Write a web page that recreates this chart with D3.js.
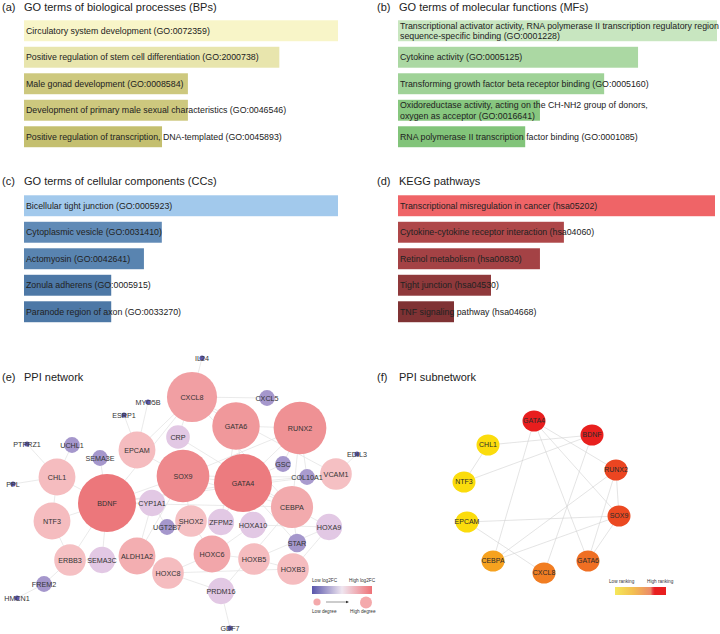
<!DOCTYPE html>
<html>
<head>
<meta charset="utf-8">
<script src="https://cdn.jsdelivr.net/npm/d3@7"></script>
<style>
  body { margin: 0; background: #fff; }
  svg { display: block; font-family: "Liberation Sans", Arial, sans-serif; }
</style>
</head>
<body>
<svg id="chart" width="720" height="634"></svg>
<script>
// ---- enrichment bars (-log10 P) ----
const bpTerms = [
  "Circulatory system development (GO:0072359)",
  "Positive regulation of stem cell differentiation (GO:2000738)",
  "Male gonad development (GO:0008584)",
  "Development of primary male sexual characteristics (GO:0046546)",
  "Positive regulation of transcription, DNA-templated (GO:0045893)"];
const bpScores = [9.1, 7.4, 4.75, 4.75, 4.0];

const mfTerms = [
  "Transcriptional activator activity, RNA polymerase II transcription regulatory region\nsequence-specific binding (GO:0001228)",
  "Cytokine activity (GO:0005125)",
  "Transforming growth factor beta receptor binding (GO:0005160)",
  "Oxidoreductase activity, acting on the CH-NH2 group of donors,\noxygen as acceptor (GO:0016641)",
  "RNA polymerase II transcription factor binding (GO:0001085)"];
const mfScores = [8.0, 6.02, 5.17, 3.56, 3.19];

const ccTerms = [
  "Bicellular tight junction (GO:0005923)",
  "Cytoplasmic vesicle (GO:0031410)",
  "Actomyosin (GO:0042641)",
  "Zonula adherens (GO:0005915)",
  "Paranode region of axon (GO:0033270)"];
const ccScores = [7.2, 3.16, 2.75, 2.0, 2.0];

const keggTerms = [
  "Transcriptional misregulation in cancer (hsa05202)",
  "Cytokine-cytokine receptor interaction (hsa04060)",
  "Retinol metabolism (hsa00830)",
  "Tight junction (hsa04530)",
  "TNF signaling pathway (hsa04668)"];
const keggScores = [9.0, 4.71, 4.03, 2.64, 1.59];

// ---- PPI network (layout coordinates, degree, log2FC) ----
const ppiGenes  = ["IL24","MYO5B","ESRP1","PTPRZ1","PPL","HMCN1","GDF7","EDIL3",
  "CXCL5","UCHL1","SEMA3E","GSC","COL10A1","STAR","UGT2B7","FREM2",
  "CRP","CYP1A1","ZFPM2","HOXA10","HOXA9","PRDM16","SEMA3C",
  "EPCAM","CHL1","NTF3","ERBB3","SHOX2","HOXB5","HOXB3","HOXC8","VCAM1",
  "ALDH1A2","CEBPA","HOXC6","CXCL8","GATA6","RUNX2","SOX9","GATA4","BDNF"];
const ppiX      = [202,148,124,27,13,17,230,357, 267,72,100,283,307,297,167,44,
  178,152,221,253,329,221,102, 137,57,52,70,191,254,293,168,336,
  137,292,212,192,236,300,183,243,107];
const ppiY      = [13,57,70,99,139,253,283,109, 53,100,113,119,132,198,182,239,
  92,158,177,180,182,246,215, 105,132,176,215,176,214,224,228,129,
  211,162,209,52,81,83,131,138,158];
const ppiDegree = [1,1,1,1,1,1,1,1, 5,5,5,5,5,6,5,5,
  8,9,9,9,9,9,9, 13,13,13,11,11,11,11,11,11,
  13,15,13,18,17,19,19,21,21];
const ppiLog2fc = [-3,-3,-3,-3,-3,-3,-3,-3, -1.5,-1.5,-1.5,-1.5,-1.4,-1.5,-1.5,-1.5,
  -0.1,-0.1,-0.1,-0.1,-0.1,-0.1,-0.1, 1.1,1.1,1.1,1.0,1.0,1.1,1.1,1.1,1.0,
  1.5,1.6,1.7,1.9,2.1,2.3,2.5,2.9,3.0];
const ppiLinks = [
  ["IL24","CXCL8"],["MYO5B","EPCAM"],["ESRP1","EPCAM"],["PTPRZ1","CHL1"],["PPL","CHL1"],
  ["UCHL1","CHL1"],["SEMA3E","BDNF"],["CHL1","BDNF"],["NTF3","BDNF"],["CHL1","NTF3"],
  ["ERBB3","BDNF"],["ERBB3","NTF3"],["FREM2","ERBB3"],["HMCN1","FREM2"],["SEMA3C","BDNF"],
  ["SEMA3C","ERBB3"],["ALDH1A2","CYP1A1"],["ALDH1A2","SOX9"],["CYP1A1","UGT2B7"],["CYP1A1","BDNF"],
  ["BDNF","SOX9"],["BDNF","GATA4"],["BDNF","CXCL8"],["BDNF","CEBPA"],["BDNF","VCAM1"],
  ["SOX9","GATA4"],["SOX9","RUNX2"],["SOX9","COL10A1"],["SOX9","EPCAM"],["SOX9","CEBPA"],
  ["SOX9","SHOX2"],["GATA4","GATA6"],["GATA4","RUNX2"],["GATA4","CEBPA"],["GATA4","ZFPM2"],
  ["GATA4","STAR"],["GATA4","VCAM1"],["GATA4","HOXA10"],["GATA4","GSC"],["GATA6","ZFPM2"],
  ["GATA6","CXCL8"],["GATA6","RUNX2"],["RUNX2","COL10A1"],["RUNX2","CEBPA"],["RUNX2","GSC"],
  ["EDIL3","VCAM1"],["CXCL8","CXCL5"],["CXCL8","CRP"],["CXCL8","VCAM1"],["CXCL8","EPCAM"],
  ["CXCL8","CEBPA"],["CRP","CEBPA"],["HOXC6","HOXC8"],["HOXC6","HOXB5"],["HOXC6","HOXA10"],
  ["HOXB5","HOXB3"],["HOXB3","HOXA9"],["HOXA10","HOXA9"],["HOXB5","HOXA9"],["HOXC8","HOXB3"],
  ["HOXC6","SHOX2"],["HOXC8","ALDH1A2"],["PRDM16","HOXC8"],["PRDM16","CEBPA"],["GDF7","PRDM16"],
  ["STAR","CEBPA"],["HOXA9","CEBPA"]];

// ---- PPI subnetwork (layout coordinates, ranking score) ----
const subGenes = ["GATA4","BDNF","RUNX2","SOX9","GATA6","CXCL8","CEBPA","EPCAM","NTF3","CHL1"];
const subX     = [174,232,256,259,228,184,133,107,104,128];
const subY     = [76,90,125,171,216,228,216,177,137,100];
const subRank  = [10,9.9,8,7.8,6,5.6,4.5,1,1,1];
const subLinks = [
  ["CHL1","BDNF"],["CHL1","NTF3"],["NTF3","BDNF"],["GATA4","RUNX2"],["GATA4","SOX9"],
  ["GATA4","GATA6"],["GATA4","CEBPA"],["BDNF","CXCL8"],["RUNX2","CEBPA"],["RUNX2","SOX9"],
  ["RUNX2","GATA6"],["SOX9","EPCAM"],["SOX9","CEBPA"],["SOX9","GATA6"],["EPCAM","CXCL8"]];

const svg = d3.select("#chart");
const defs = svg.append("defs");

function panelTitle(x, y, tag, text) {
  svg.append("text").attr("x", x).attr("y", y)
    .attr("font-size", 11).attr("fill", "#222").text(tag);
  svg.append("text").attr("x", x + 22).attr("y", y)
    .attr("font-size", 11).attr("fill", "#222").text(text);
}

function barPanel(terms, scores, x0, x1, y0, low, high, gamma) {
  const x = d3.scaleLinear().domain([0, d3.max(scores)]).range([x0, x1]);
  const y = d3.scaleBand().domain(terms)
    .range([y0, y0 + 5 * 26.5]).paddingInner(0.21).paddingOuter(0.105);
  const colour = d3.scalePow().exponent(gamma || 1)
    .domain(d3.extent(scores)).range([low, high]);
  const g = svg.append("g");
  g.selectAll("rect").data(terms).join("rect")
    .attr("x", x0)
    .attr("y", d => y(d))
    .attr("width", (d, i) => x(scores[i]) - x0)
    .attr("height", y.bandwidth())
    .attr("fill", (d, i) => colour(scores[i]));
  g.selectAll("text").data(terms).join("text")
    .attr("x", x0 + 2)
    .attr("y", d => y(d) + y.bandwidth() / 2)
    .attr("font-size", 8.8).attr("fill", "#222")
    .each(function(d) {
      const lines = d.split("\n");
      d3.select(this).selectAll("tspan").data(lines).join("tspan")
        .attr("x", x0 + 2)
        .attr("dy", (l, i) => i === 0 ? (0.35 - (lines.length - 1) * 0.6) + "em" : "1.2em")
        .text(l => l);
    });
}

panelTitle(2, 10.5, "(a)", "GO terms of biological processes (BPs)");
panelTitle(377, 10.5, "(b)", "GO terms of molecular functions (MFs)");
panelTitle(2, 185, "(c)", "GO terms of cellular components (CCs)");
panelTitle(377, 185, "(d)", "KEGG pathways");
panelTitle(2, 380.5, "(e)", "PPI network");
panelTitle(377, 380.5, "(f)", "PPI subnetwork");

barPanel(bpTerms, bpScores, 24, 338, 17.5, "#c4bf6f", "#f8f5c8", 0.65);
barPanel(mfTerms, mfScores, 398, 717, 17.5, "#82c47a", "#c8e6c0");
barPanel(ccTerms, ccScores, 24, 338, 192.5, "#4d78a6", "#a2c9ec");
barPanel(keggTerms, keggScores, 398, 715, 192.5, "#7f3234", "#ef6467");

// ---- (e) PPI network ----
const ex = d3.scaleLinear().domain([0, 360]).range([0, 360]);
const ey = d3.scaleLinear().domain([0, 290]).range([345, 635]);
const rDeg = d3.scaleLinear().domain([1, 21]).range([2.6, 29]);
const fcColour = d3.scaleLinear()
  .domain([-3, -1.5, 0, 1, 3])
  .range(["#5b57ac", "#a597cc", "#e6cce6", "#f5c0c3", "#ec777b"]);

const ppiNodes = ppiGenes.map((g, i) => ({
  id: g, x: ex(ppiX[i]), y: ey(ppiY[i]), r: rDeg(ppiDegree[i]), fc: ppiLog2fc[i]}));
const ppiById = new Map(ppiNodes.map(n => [n.id, n]));

const ge = svg.append("g");
ge.selectAll("line").data(ppiLinks).join("line")
  .attr("x1", d => ppiById.get(d[0]).x).attr("y1", d => ppiById.get(d[0]).y)
  .attr("x2", d => ppiById.get(d[1]).x).attr("y2", d => ppiById.get(d[1]).y)
  .attr("stroke", "#e4e4e4").attr("stroke-width", 0.8);
ge.selectAll("circle").data(ppiNodes).join("circle")
  .attr("cx", d => d.x).attr("cy", d => d.y).attr("r", d => d.r)
  .attr("fill", d => fcColour(d.fc));
ge.selectAll("text").data(ppiNodes).join("text")
  .attr("x", d => d.x).attr("y", d => d.y).attr("dy", "0.35em")
  .attr("text-anchor", "middle").attr("font-size", 7.2).attr("fill", "#333")
  .text(d => d.id);

// legend (e)
const gradE = defs.append("linearGradient").attr("id", "gradFC");
[["0%", "#5a56ab"], ["50%", "#efe6f0"], ["100%", "#ee7277"]].forEach(s =>
  gradE.append("stop").attr("offset", s[0]).attr("stop-color", s[1]));
const le = svg.append("g").attr("font-size", 4.7).attr("fill", "#333");
le.append("text").attr("x", 312).attr("y", 582).text("Low log2FC");
le.append("text").attr("x", 349).attr("y", 582).text("High log2FC");
le.append("rect").attr("x", 312).attr("y", 586).attr("width", 60).attr("height", 8)
  .attr("fill", "url(#gradFC)");
le.append("circle").attr("cx", 317).attr("cy", 602).attr("r", 3.6).attr("fill", "#f4a9ab");
le.append("circle").attr("cx", 366).attr("cy", 602.5).attr("r", 6).attr("fill", "#f4a9ab");
le.append("line").attr("x1", 326).attr("y1", 602).attr("x2", 348).attr("y2", 602)
  .attr("stroke", "#333").attr("stroke-width", 0.5);
le.append("path").attr("d", "M349,602 l-3,-1.3 v2.6 z").attr("fill", "#333");
le.append("text").attr("x", 312).attr("y", 613).text("Low degree");
le.append("text").attr("x", 350).attr("y", 613).text("High degree");

// ---- (f) PPI subnetwork ----
const fx = d3.scaleLinear().domain([0, 360]).range([360, 720]);
const fy = d3.scaleLinear().domain([0, 290]).range([345, 635]);
const rankColour = d3.scaleLinear()
  .domain([1, 4.5, 6, 8, 10])
  .range(["#fbdc0c", "#f6a21f", "#ef6f23", "#eb4521", "#e81e1e"]);

const subNodes = subGenes.map((g, i) => ({id: g, x: fx(subX[i]), y: fy(subY[i]), rank: subRank[i]}));
const subById = new Map(subNodes.map(n => [n.id, n]));
const gf = svg.append("g");
gf.selectAll("line").data(subLinks).join("line")
  .attr("x1", d => subById.get(d[0]).x).attr("y1", d => subById.get(d[0]).y)
  .attr("x2", d => subById.get(d[1]).x).attr("y2", d => subById.get(d[1]).y)
  .attr("stroke", "#d2d2d2").attr("stroke-width", 0.6);
gf.selectAll("ellipse").data(subNodes).join("ellipse")
  .attr("cx", d => d.x).attr("cy", d => d.y).attr("rx", 11.5).attr("ry", 10.5)
  .attr("fill", d => rankColour(d.rank));
gf.selectAll("text").data(subNodes).join("text")
  .attr("x", d => d.x).attr("y", d => d.y).attr("dy", "0.35em")
  .attr("text-anchor", "middle").attr("font-size", 7).attr("fill", "#2a2a2a")
  .text(d => d.id);

// legend (f)
const gradF = defs.append("linearGradient").attr("id", "gradRank");
[["0%", "#f5e85a"], ["35%", "#f3c050"], ["70%", "#ec8a68"], ["74%", "#e84040"],
 ["78%", "#e81f1f"], ["100%", "#e81f1f"]].forEach(s =>
  gradF.append("stop").attr("offset", s[0]).attr("stop-color", s[1]));
const lf = svg.append("g").attr("font-size", 4.7).attr("fill", "#333");
lf.append("text").attr("x", 609).attr("y", 583).text("Low ranking");
lf.append("text").attr("x", 647).attr("y", 583).text("High ranking");
lf.append("rect").attr("x", 615).attr("y", 587).attr("width", 51).attr("height", 8)
  .attr("fill", "url(#gradRank)");
</script>
</body>
</html>
